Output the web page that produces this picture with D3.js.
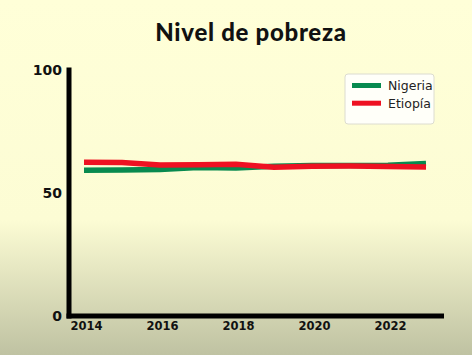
<!DOCTYPE html>
<html><head><meta charset="utf-8">
<script src="https://cdn.jsdelivr.net/npm/d3@7"></script>
<style>body{margin:0;padding:0;overflow:hidden}</style>
</head><body>
<script>
const years = [2014, 2015, 2016, 2017, 2018, 2019, 2020, 2021, 2022, 2023];
const nigeria = [59.2, 59.3, 59.6, 60.4, 60.2, 60.9, 61.2, 61.2, 61.3, 62.0];
const etiopia = [62.5, 62.4, 61.4, 61.5, 61.7, 60.5, 60.9, 61.0, 60.8, 60.6];
const xTicks = [2014, 2016, 2018, 2020, 2022];
const yTicks = [0, 50, 100];
const seriesNames = ["Nigeria", "Etiopía"];
const seriesColors = ["#078a4f", "#ee1122"];
const title = "Nivel de pobreza";

const W = 472, H = 355;
const svg = d3.select("body").append("svg").attr("width", W).attr("height", H);
const defs = svg.append("defs");
const grad = defs.append("linearGradient").attr("id", "bg").attr("x1", 0).attr("y1", 0).attr("x2", 0).attr("y2", 1);
grad.append("stop").attr("offset", "0").attr("stop-color", "#ffffd8");
grad.append("stop").attr("offset", "0.62").attr("stop-color", "#fcfcd4");
grad.append("stop").attr("offset", "1").attr("stop-color", "#bfc2a2");
svg.append("rect").attr("width", W).attr("height", H).attr("fill", "url(#bg)");

const x = d3.scaleLinear().domain([2014, 2023]).range([84, 426]);
const y = d3.scaleLinear().domain([0, 100]).range([316, 70]);

svg.append("text").attr("x", 251).attr("y", 41).attr("text-anchor", "middle")
  .attr("font-family", "Lato").attr("font-weight", 900).attr("font-size", 24)
  .attr("letter-spacing", 0.7).attr("fill", "#111").text(title);

// lines
const line = d3.line().x((d, i) => x(years[i])).y(d => y(d));
[nigeria, etiopia].forEach((s, k) => {
  svg.append("path").datum(s).attr("d", line).attr("fill", "none")
    .attr("stroke", seriesColors[k]).attr("stroke-width", 5.5);
});

// axes
const yAxis = d3.axisLeft(y).tickValues(yTicks).tickSize(0).tickPadding(7);
const gy = svg.append("g").attr("transform", "translate(69,0)").call(yAxis);
gy.select(".domain").remove();
gy.selectAll("text").attr("font-family", "DejaVu Sans").attr("font-weight", "bold")
  .attr("font-size", 14).attr("fill", "#111");

const xAxis = d3.axisBottom(x).tickValues(xTicks).tickFormat(d3.format("d")).tickSize(0).tickPadding(6);
const gx = svg.append("g").attr("transform", "translate(2,316)").call(xAxis);
gx.select(".domain").remove();
gx.selectAll("text").attr("font-family", "DejaVu Sans").attr("font-weight", "bold")
  .attr("font-size", 11.5).attr("fill", "#111");

svg.append("line").attr("x1", 69).attr("x2", 69).attr("y1", y(0)).attr("y2", y(100))
  .attr("stroke", "#000").attr("stroke-width", 5).attr("stroke-linecap", "square");
svg.append("line").attr("x1", 69).attr("x2", 441.5).attr("y1", y(0)).attr("y2", y(0))
  .attr("stroke", "#000").attr("stroke-width", 5).attr("stroke-linecap", "square");

// legend
const lg = svg.append("g");
lg.append("rect").attr("x", 345).attr("y", 74).attr("width", 89).attr("height", 50)
  .attr("rx", 3).attr("fill", "#ffffff").attr("fill-opacity", 0.85).attr("stroke", "#dcdcd0");
seriesNames.forEach((n, k) => {
  const yy = 85.5 + k * 17.7;
  lg.append("line").attr("x1", 352).attr("x2", 381).attr("y1", yy).attr("y2", yy)
    .attr("stroke", seriesColors[k]).attr("stroke-width", 5);
  lg.append("text").attr("x", 388).attr("y", yy + 4.5).attr("font-family", "DejaVu Sans")
    .attr("font-size", 12.5).attr("fill", "#222").text(n);
});
</script>
</body></html>
